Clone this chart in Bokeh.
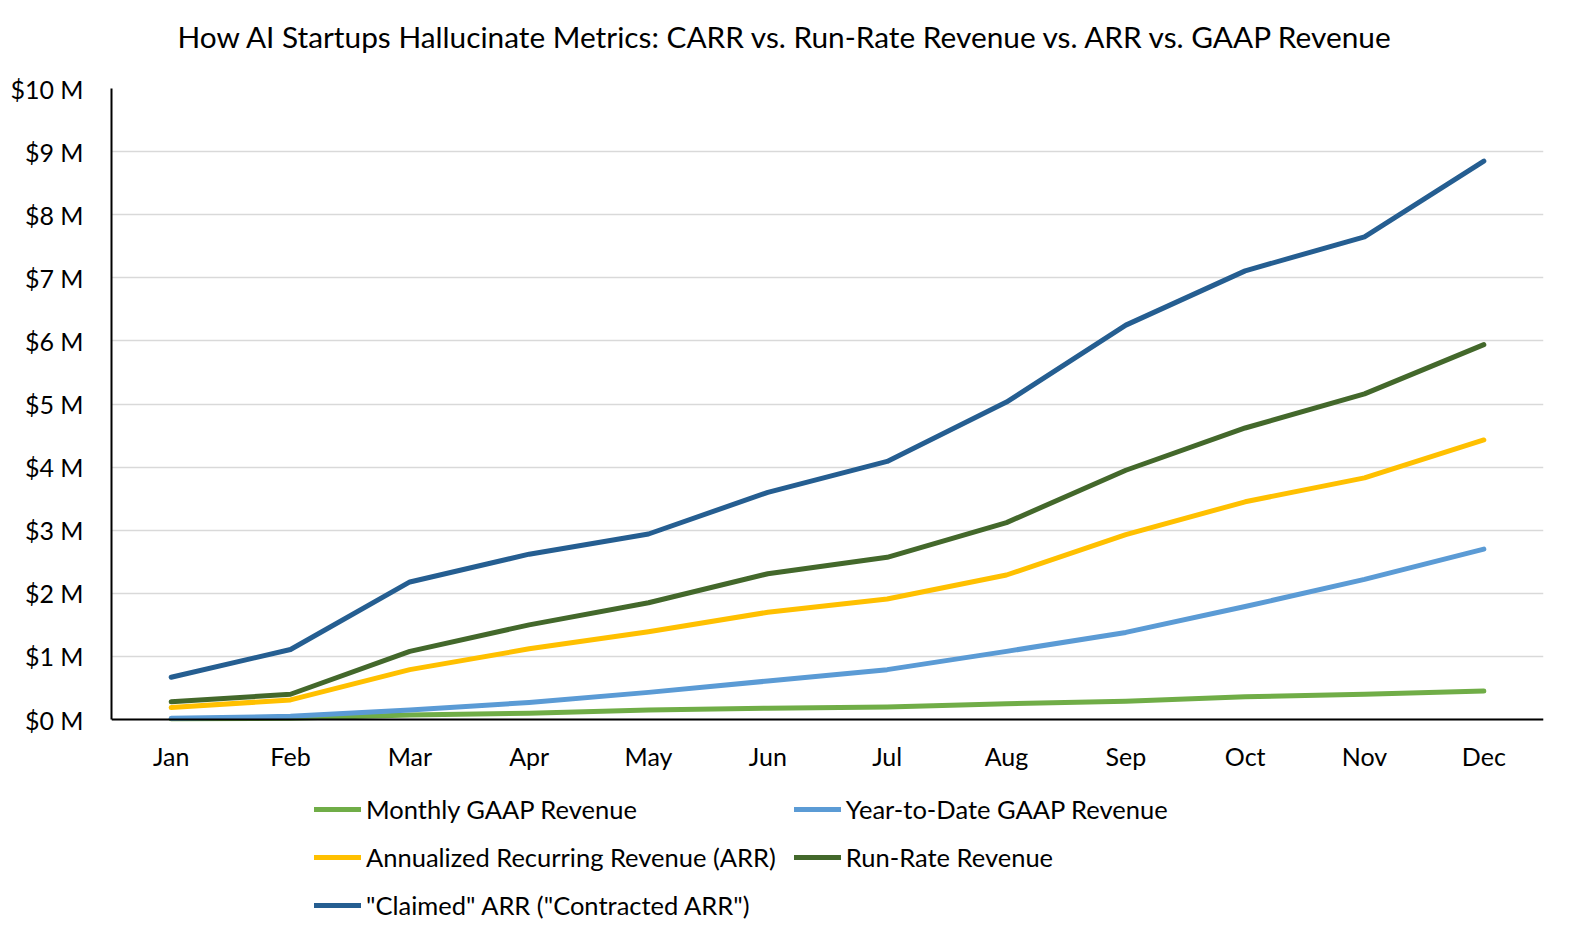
from bokeh.plotting import figure
from bokeh.models import Legend, LegendItem, Range1d, FixedTicker
from bokeh.core.properties import value
from bokeh.embed import file_html
from bokeh.resources import INLINE

months = ["Jan", "Feb", "Mar", "Apr", "May", "Jun", "Jul", "Aug", "Sep", "Oct", "Nov", "Dec"]
monthly_gaap = [0.01, 0.02, 0.07, 0.10, 0.15, 0.18, 0.20, 0.25, 0.29, 0.36, 0.40, 0.45]
ytd_gaap = [0.02, 0.05, 0.15, 0.27, 0.43, 0.61, 0.79, 1.08, 1.38, 1.79, 2.22, 2.70]
arr = [0.19, 0.31, 0.79, 1.12, 1.39, 1.70, 1.91, 2.29, 2.93, 3.45, 3.83, 4.43]
run_rate = [0.28, 0.40, 1.08, 1.50, 1.85, 2.31, 2.57, 3.12, 3.95, 4.62, 5.16, 5.94]
claimed = [0.67, 1.11, 2.18, 2.62, 2.94, 3.60, 4.09, 5.03, 6.25, 7.11, 7.65, 8.85]
y_ticks = list(range(0, 11))
y_tick_labels = ["$%d M" % v for v in y_ticks]

series = [
    ("Monthly GAAP Revenue", monthly_gaap, "#70AD47"),
    ("Year-to-Date GAAP Revenue", ytd_gaap, "#5B9BD5"),
    ("Annualized Recurring Revenue (ARR)", arr, "#FFC000"),
    ("Run-Rate Revenue", run_rate, "#43682B"),
    ('"Claimed" ARR ("Contracted ARR")', claimed, "#255E91"),
]

FONT = "Lato"
xs = list(range(len(months)))

PX_PER_UNIT = 63.1
FRAME_H = 840
y_top = 10
y_bottom = y_top - FRAME_H / PX_PER_UNIT   # extra room below $0 M for month labels and legend

p = figure(frame_width=1432, frame_height=FRAME_H, output_backend="svg", toolbar_location=None,
           x_range=Range1d(-0.5, len(months) - 0.5), y_range=Range1d(y_bottom, y_top),
           min_border_left=111, min_border_top=88, min_border_right=16, min_border_bottom=0,
           title='How AI Startups Hallucinate Metrics: CARR vs. Run-Rate Revenue vs. ARR vs. GAAP Revenue\n ')
p.title.text_font = FONT
p.title.text_font_size = "29.8px"
p.title.text_font_style = "normal"
p.title.text_color = "#000000"
p.title.align = "left"
p.title.offset = 66
p.title.vertical_align = "bottom"
p.title.standoff = 0
p.outline_line_color = None
p.background_fill_color = "white"
p.border_fill_color = "white"

p.xgrid.visible = False
p.ygrid.grid_line_color = "#d9d9d9"
p.ygrid.grid_line_width = 1.5
p.ygrid.ticker = FixedTicker(ticks=y_ticks)

# y axis limited to the $0 M - $10 M band
p.yaxis.ticker = FixedTicker(ticks=y_ticks)
p.yaxis.major_label_overrides = {v: l for v, l in zip(y_ticks, y_tick_labels)}
p.yaxis.bounds = (0, 10)
p.yaxis.major_label_text_font = FONT
p.yaxis.major_label_text_font_size = "25px"
p.yaxis.major_label_text_color = "#000000"
p.yaxis.major_label_standoff = 28

# x axis line sits at $0 M; month labels are drawn just below it
p.xaxis.fixed_location = 0
p.xaxis.ticker = FixedTicker(ticks=[])
p.xaxis.major_label_standoff = 0
for ax in (p.xaxis, p.yaxis):
    ax.axis_line_color = "#000000"
    ax.axis_line_width = 2
    ax.major_tick_line_color = None
    ax.minor_tick_line_color = None
    ax.major_tick_out = 0
    ax.major_tick_in = 0

p.text(x=xs, y=[-0.58] * len(xs), text=months, text_font=value(FONT), text_font_size="25px",
       text_color="#000000", text_align="center", text_baseline="middle")

items = {}
for name, vals, color in series:
    r = p.line(xs, vals, line_color=color, line_width=5, line_cap="round", line_join="round")
    items[name] = LegendItem(label=name, renderers=[r])

# legend fills column by column; order so rows read as in the reference
legend_order = ["Monthly GAAP Revenue", "Annualized Recurring Revenue (ARR)", '"Claimed" ARR ("Contracted ARR")',
                "Year-to-Date GAAP Revenue", "Run-Rate Revenue"]
legend = Legend(items=[items[n] for n in legend_order], ncols=2, location=(203, 8), orientation="vertical",
                label_text_font=FONT, label_text_font_size="25.5px", label_text_color="#000000",
                glyph_width=47, glyph_height=30, label_height=30, spacing=18, label_standoff=5,
                padding=0, margin=0, border_line_color=None, background_fill_alpha=0)
p.add_layout(legend, "center")

open("out.html", "w").write(file_html(p, INLINE))
